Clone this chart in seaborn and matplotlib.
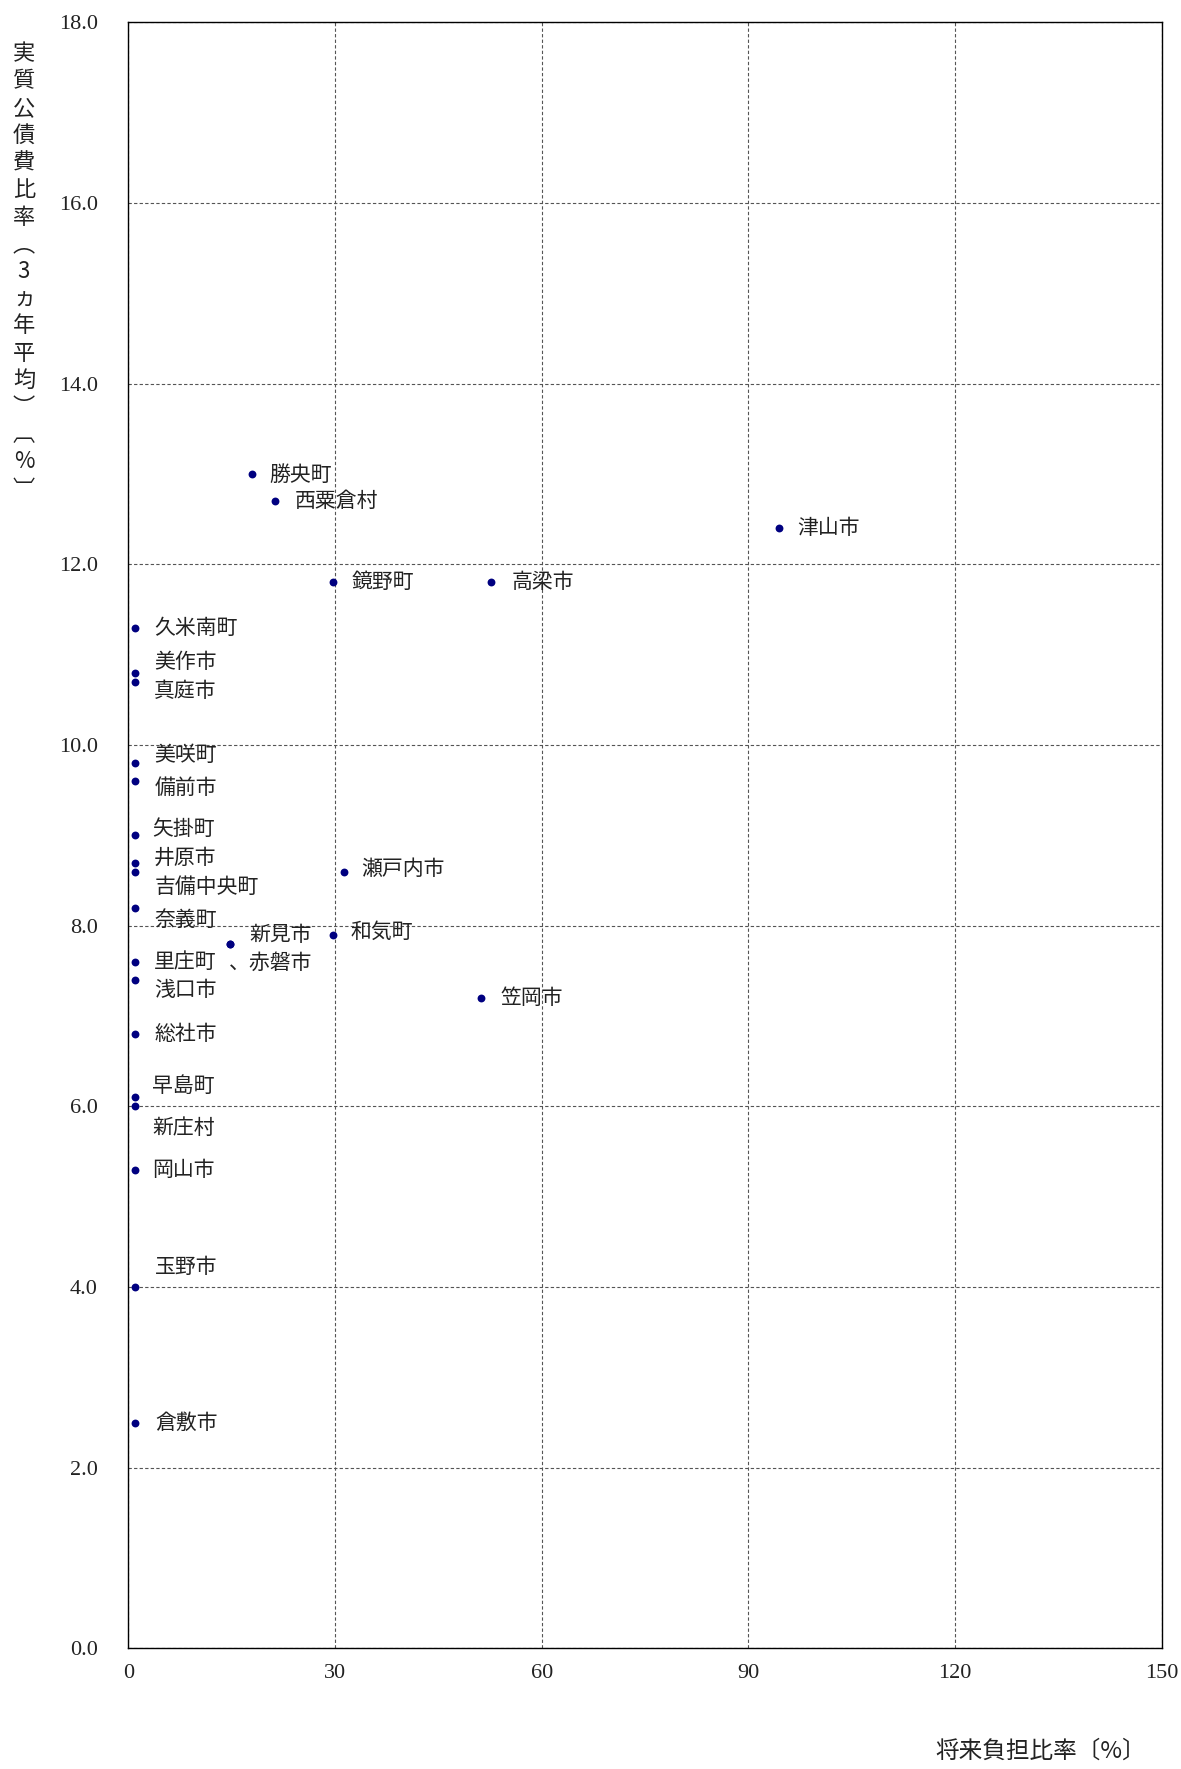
import numpy as np
import pandas as pd
import matplotlib
matplotlib.use("Agg")
import matplotlib.pyplot as plt
import seaborn as sns

# データ（岡山県内市町村）
names = ["勝央町", "西粟倉村", "津山市", "鏡野町", "高梁市", "久米南町", "美作市", "真庭市",
         "美咲町", "備前市", "矢掛町", "井原市", "吉備中央町", "奈義町", "新見市", "赤磐市",
         "瀬戸内市", "和気町", "里庄町", "浅口市", "笠岡市", "総社市", "早島町", "新庄村",
         "岡山市", "玉野市", "倉敷市"]
future_burden = [17.9, 21.3, 94.4, 29.7, 52.7, 1.0, 1.0, 1.0,
                 1.0, 1.0, 1.0, 1.0, 1.0, 1.0, 14.8, 14.8,
                 31.3, 29.7, 1.0, 1.0, 51.2, 1.0, 1.0, 1.0,
                 1.0, 1.0, 1.0]
debt_ratio = [13.0, 12.7, 12.4, 11.8, 11.8, 11.3, 10.8, 10.7,
              9.8, 9.6, 9.0, 8.7, 8.6, 8.2, 7.8, 7.8,
              8.6, 7.9, 7.6, 7.4, 7.2, 6.8, 6.1, 6.0,
              5.3, 4.0, 2.5]
# 表示用ラベル（赤磐市は新見市と同じ位置）
label_text = list(names)
label_text[names.index("赤磐市")] = "、赤磐市"

# ラベルの位置ずれ（ピクセル）
label_offsets = [(18, -1), (20, 0), (19, 0), (19, 0), (20, 0), (19, 0), (19, 11), (19, -9),
                 (19, 8), (19, -7), (17, 6), (19, 5), (19, -15), (19, -12), (19, 9), (-1, -19),
                 (17, 3), (18, 3), (19, 0), (19, -10), (19, 0), (19, 0), (17, 11), (17, -22),
                 (17, 0), (20, 20), (20, 0)]

x_ticks = [0, 30, 60, 90, 120, 150]
y_ticks = [0, 2, 4, 6, 8, 10, 12, 14, 16, 18]
x_title = "将来負担比率〔%〕"
y_title = "実質公債費比率︵3ヵ年平均︶︹%︺"

df = pd.DataFrame({"name": names, "future": future_burden, "debt": debt_ratio})

sns.set_style("white")
plt.rcParams["font.family"] = ["Noto Sans CJK JP", "DejaVu Sans"]

W, H = 1181, 1769
fig = plt.figure(figsize=(W / 100, H / 100), dpi=100)
left, right, top, bottom = 128.3, 1161.8, 22.4, 1648.4
ax = fig.add_axes([left / W, 1 - bottom / H, (right - left) / W, (bottom - top) / H])

sns.scatterplot(data=df, x="future", y="debt", color="#000080", s=32,
                linewidth=0, ax=ax, zorder=3)

for i, row in df.iterrows():
    ax.annotate(label_text[i], (row["future"], row["debt"]),
                xytext=label_offsets[i], textcoords="offset pixels",
                ha="left", va="center", fontsize=15, color="#222222")

ax.set_xlim(0, 150)
ax.set_ylim(0, 18)
ax.set_xticks(x_ticks)
ax.set_yticks(y_ticks)
ax.set_xticklabels([str(v) for v in x_ticks])
ax.set_yticklabels([f"{v:.1f}" for v in y_ticks])
ax.tick_params(axis="both", direction="in", length=6, width=1, color="black",
               labelsize=16, labelcolor="#222222", labelfontfamily="Liberation Serif")
ax.tick_params(axis="y", pad=22)
ax.tick_params(axis="x", pad=11)
ax.set_xlabel("")
ax.set_ylabel("")

ax.grid(True, color="#555555", linestyle=(0, (3, 2)), linewidth=0.8, zorder=1)
for sp in ax.spines.values():
    sp.set_color("black")
    sp.set_linewidth(1.0)

# 縦書きの軸タイトル
for k, ch in enumerate(y_title):
    fig.text(24 / W, 1 - (54 + k * 27.2) / H, ch, ha="center", va="center",
             fontsize=16, color="#222222")

fig.text(1146 / W, 1 - 1751.6 / H, x_title, ha="right", va="center",
         fontsize=17, color="#222222")

fig.savefig("out.png", dpi=100)
